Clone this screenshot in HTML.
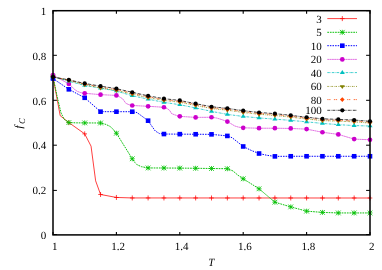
<!DOCTYPE html>
<html><head><meta charset="utf-8"><style>
html,body{margin:0;padding:0;background:#fff;width:382px;height:270px;overflow:hidden}
.t{font-family:"Liberation Serif",serif;font-size:11px;fill:#000}
</style></head><body>
<svg width="382" height="270" viewBox="0 0 382 270" style="position:absolute;left:0;top:0;will-change:transform" text-rendering="geometricPrecision">
<rect width="382" height="270" fill="#fff"/>
<path d="M53.00 76.74L60.20 115.69L68.85 122.58L84.70 133.86L91.04 146.13L95.64 180.83L100.55 194.48L116.40 197.46L132.25 197.95L370.00 198.00" fill="none" stroke="#ff0000" stroke-width="0.75"/>
<path d="M50.70 76.74H55.30M53.00 74.24V79.24" stroke="#ff0000" stroke-width="0.75" fill="none"/>
<path d="M66.55 122.58H71.15M68.85 120.08V125.08" stroke="#ff0000" stroke-width="0.75" fill="none"/>
<path d="M82.40 133.86H87.00M84.70 131.36V136.36" stroke="#ff0000" stroke-width="0.75" fill="none"/>
<path d="M98.25 194.48H102.85M100.55 191.98V196.98" stroke="#ff0000" stroke-width="0.75" fill="none"/>
<path d="M114.10 197.46H118.70M116.40 194.96V199.96" stroke="#ff0000" stroke-width="0.75" fill="none"/>
<path d="M129.95 197.95H134.55M132.25 195.45V200.45" stroke="#ff0000" stroke-width="0.75" fill="none"/>
<path d="M145.80 197.95H150.40M148.10 195.45V200.45" stroke="#ff0000" stroke-width="0.75" fill="none"/>
<path d="M161.65 197.96H166.25M163.95 195.46V200.46" stroke="#ff0000" stroke-width="0.75" fill="none"/>
<path d="M177.50 197.96H182.10M179.80 195.46V200.46" stroke="#ff0000" stroke-width="0.75" fill="none"/>
<path d="M193.35 197.96H197.95M195.65 195.46V200.46" stroke="#ff0000" stroke-width="0.75" fill="none"/>
<path d="M209.20 197.97H213.80M211.50 195.47V200.47" stroke="#ff0000" stroke-width="0.75" fill="none"/>
<path d="M225.05 197.97H229.65M227.35 195.47V200.47" stroke="#ff0000" stroke-width="0.75" fill="none"/>
<path d="M240.90 197.97H245.50M243.20 195.47V200.47" stroke="#ff0000" stroke-width="0.75" fill="none"/>
<path d="M256.75 197.97H261.35M259.05 195.47V200.47" stroke="#ff0000" stroke-width="0.75" fill="none"/>
<path d="M272.60 197.98H277.20M274.90 195.48V200.48" stroke="#ff0000" stroke-width="0.75" fill="none"/>
<path d="M288.45 197.98H293.05M290.75 195.48V200.48" stroke="#ff0000" stroke-width="0.75" fill="none"/>
<path d="M304.30 197.98H308.90M306.60 195.48V200.48" stroke="#ff0000" stroke-width="0.75" fill="none"/>
<path d="M320.15 197.99H324.75M322.45 195.49V200.49" stroke="#ff0000" stroke-width="0.75" fill="none"/>
<path d="M336.00 197.99H340.60M338.30 195.49V200.49" stroke="#ff0000" stroke-width="0.75" fill="none"/>
<path d="M351.85 197.99H356.45M354.15 195.49V200.49" stroke="#ff0000" stroke-width="0.75" fill="none"/>
<path d="M367.70 198.00H372.30M370.00 195.50V200.50" stroke="#ff0000" stroke-width="0.75" fill="none"/>
<path d="M327.3 18.6H357" fill="none" stroke="#ff0000" stroke-width="0.75"/>
<path d="M340.00 18.60H344.60M342.30 16.10V21.10" stroke="#ff0000" stroke-width="0.75" fill="none"/>
<text x="321.8" y="22.60" text-anchor="end" class="t">3</text>
<path d="M53.00 76.74L56.96 95.76L60.92 112.55L64.09 119.27L68.85 122.58L76.77 122.85L100.55 123.01L105.94 124.42L110.06 126.43L113.23 129.34L116.40 133.26L132.25 158.78L134.69 162.31L137.20 164.84L141.60 166.72L148.10 167.95L163.95 168.00L179.80 168.11L195.65 168.29L211.50 168.51L227.35 168.72L232.90 170.91L237.81 175.10L243.20 178.79L259.05 188.80L274.90 202.20L290.75 206.90L306.60 211.16L322.45 212.39L338.30 212.95L370.00 212.95" fill="none" stroke="#00c000" stroke-width="0.95" stroke-dasharray="1.7 0.9"/>
<path d="M50.50 76.74H55.50M53.00 74.24V79.24M50.62 74.36L55.38 79.11M50.62 79.11L55.38 74.36" stroke="#00c000" stroke-width="0.8" fill="none"/>
<path d="M66.35 122.58H71.35M68.85 120.08V125.08M66.48 120.21L71.23 124.96M66.48 124.96L71.23 120.21" stroke="#00c000" stroke-width="0.8" fill="none"/>
<path d="M82.20 122.90H87.20M84.70 120.40V125.40M82.33 120.53L87.08 125.28M82.33 125.28L87.08 120.53" stroke="#00c000" stroke-width="0.8" fill="none"/>
<path d="M98.05 123.01H103.05M100.55 120.51V125.51M98.17 120.63L102.92 125.38M98.17 125.38L102.92 120.63" stroke="#00c000" stroke-width="0.8" fill="none"/>
<path d="M113.90 133.26H118.90M116.40 130.76V135.76M114.02 130.88L118.77 135.63M114.02 135.63L118.77 130.88" stroke="#00c000" stroke-width="0.8" fill="none"/>
<path d="M129.75 158.78H134.75M132.25 156.28V161.28M129.88 156.40L134.62 161.15M129.88 161.15L134.62 156.40" stroke="#00c000" stroke-width="0.8" fill="none"/>
<path d="M145.60 167.95H150.60M148.10 165.45V170.45M145.73 165.58L150.48 170.33M145.73 170.33L150.48 165.58" stroke="#00c000" stroke-width="0.8" fill="none"/>
<path d="M161.45 168.00H166.45M163.95 165.50V170.50M161.58 165.62L166.33 170.37M161.58 170.37L166.33 165.62" stroke="#00c000" stroke-width="0.8" fill="none"/>
<path d="M177.30 168.11H182.30M179.80 165.61V170.61M177.42 165.74L182.17 170.49M177.42 170.49L182.17 165.74" stroke="#00c000" stroke-width="0.8" fill="none"/>
<path d="M193.15 168.29H198.15M195.65 165.79V170.79M193.27 165.92L198.02 170.67M193.27 170.67L198.02 165.92" stroke="#00c000" stroke-width="0.8" fill="none"/>
<path d="M209.00 168.51H214.00M211.50 166.01V171.01M209.12 166.14L213.88 170.89M209.12 170.89L213.88 166.14" stroke="#00c000" stroke-width="0.8" fill="none"/>
<path d="M224.85 168.72H229.85M227.35 166.22V171.22M224.98 166.34L229.73 171.09M224.98 171.09L229.73 166.34" stroke="#00c000" stroke-width="0.8" fill="none"/>
<path d="M240.70 178.79H245.70M243.20 176.29V181.29M240.83 176.41L245.58 181.16M240.83 181.16L245.58 176.41" stroke="#00c000" stroke-width="0.8" fill="none"/>
<path d="M256.55 188.80H261.55M259.05 186.30V191.30M256.67 186.42L261.42 191.17M256.67 191.17L261.42 186.42" stroke="#00c000" stroke-width="0.8" fill="none"/>
<path d="M272.40 202.20H277.40M274.90 199.70V204.70M272.53 199.83L277.28 204.58M272.53 204.58L277.28 199.83" stroke="#00c000" stroke-width="0.8" fill="none"/>
<path d="M288.25 206.90H293.25M290.75 204.40V209.40M288.38 204.53L293.12 209.28M288.38 209.28L293.12 204.53" stroke="#00c000" stroke-width="0.8" fill="none"/>
<path d="M304.10 211.16H309.10M306.60 208.66V213.66M304.23 208.78L308.98 213.53M304.23 213.53L308.98 208.78" stroke="#00c000" stroke-width="0.8" fill="none"/>
<path d="M319.95 212.39H324.95M322.45 209.89V214.89M320.08 210.01L324.83 214.76M320.08 214.76L324.83 210.01" stroke="#00c000" stroke-width="0.8" fill="none"/>
<path d="M335.80 212.95H340.80M338.30 210.45V215.45M335.92 210.57L340.67 215.32M335.92 215.32L340.67 210.57" stroke="#00c000" stroke-width="0.8" fill="none"/>
<path d="M351.65 212.95H356.65M354.15 210.45V215.45M351.78 210.57L356.53 215.32M351.78 215.32L356.53 210.57" stroke="#00c000" stroke-width="0.8" fill="none"/>
<path d="M367.50 212.95H372.50M370.00 210.45V215.45M367.62 210.57L372.38 215.32M367.62 215.32L372.38 210.57" stroke="#00c000" stroke-width="0.8" fill="none"/>
<path d="M327.3 32.3H357" fill="none" stroke="#00c000" stroke-width="0.95" stroke-dasharray="1.7 0.9"/>
<path d="M339.80 32.30H344.80M342.30 29.80V34.80M339.93 29.92L344.68 34.67M339.93 34.67L344.68 29.92" stroke="#00c000" stroke-width="0.8" fill="none"/>
<text x="321.8" y="36.30" text-anchor="end" class="t">5</text>
<path d="M53.00 78.53L68.85 89.32L84.70 97.78L100.55 111.66L132.25 111.72L137.00 112.55L148.10 120.68L151.11 125.15L155.30 131.04L159.51 133.55L163.95 134.04L211.50 134.35L227.35 135.92L232.10 137.69L243.20 146.47L251.12 150.38L259.05 153.52L266.98 155.31L274.90 156.38L290.75 156.27L370.00 156.27" fill="none" stroke="#0000ff" stroke-width="1.0" stroke-dasharray="1.5 1.1"/>
<rect x="50.70" y="76.23" width="4.6" height="4.6" fill="#0000ff"/>
<rect x="66.55" y="87.02" width="4.6" height="4.6" fill="#0000ff"/>
<rect x="82.40" y="95.48" width="4.6" height="4.6" fill="#0000ff"/>
<rect x="98.25" y="109.36" width="4.6" height="4.6" fill="#0000ff"/>
<rect x="114.10" y="109.39" width="4.6" height="4.6" fill="#0000ff"/>
<rect x="129.95" y="109.42" width="4.6" height="4.6" fill="#0000ff"/>
<rect x="145.80" y="118.38" width="4.6" height="4.6" fill="#0000ff"/>
<rect x="161.65" y="131.74" width="4.6" height="4.6" fill="#0000ff"/>
<rect x="177.50" y="131.85" width="4.6" height="4.6" fill="#0000ff"/>
<rect x="193.35" y="131.95" width="4.6" height="4.6" fill="#0000ff"/>
<rect x="209.20" y="132.05" width="4.6" height="4.6" fill="#0000ff"/>
<rect x="225.05" y="133.62" width="4.6" height="4.6" fill="#0000ff"/>
<rect x="240.90" y="144.17" width="4.6" height="4.6" fill="#0000ff"/>
<rect x="256.75" y="151.22" width="4.6" height="4.6" fill="#0000ff"/>
<rect x="272.60" y="154.08" width="4.6" height="4.6" fill="#0000ff"/>
<rect x="288.45" y="153.97" width="4.6" height="4.6" fill="#0000ff"/>
<rect x="304.30" y="153.97" width="4.6" height="4.6" fill="#0000ff"/>
<rect x="320.15" y="153.97" width="4.6" height="4.6" fill="#0000ff"/>
<rect x="336.00" y="153.97" width="4.6" height="4.6" fill="#0000ff"/>
<rect x="351.85" y="153.97" width="4.6" height="4.6" fill="#0000ff"/>
<rect x="367.70" y="153.97" width="4.6" height="4.6" fill="#0000ff"/>
<path d="M327.3 45.7H357" fill="none" stroke="#0000ff" stroke-width="1.0" stroke-dasharray="1.5 1.1"/>
<rect x="340.00" y="43.40" width="4.6" height="4.6" fill="#0000ff"/>
<text x="321.8" y="49.70" text-anchor="end" class="t">10</text>
<path d="M53.00 75.17L68.85 83.90L72.40 87.19L74.87 89.72L77.41 91.40L80.74 92.63L84.70 93.30L100.55 94.64L116.40 95.43L119.57 96.88L122.74 98.90L125.91 103.37L129.08 104.72L132.25 105.50L148.10 106.28L163.95 107.27L167.69 108.90L169.81 110.60L171.49 113.49L174.41 114.75L179.80 116.36L195.65 117.39L211.50 117.25L216.79 118.06L221.80 119.60L227.35 121.60L231.00 123.70L234.80 125.98L238.44 127.10L243.20 127.82L259.05 128.22L274.90 128.22L290.75 128.45L306.60 129.12L322.45 132.25L338.30 134.40L354.15 139.12L370.00 139.77" fill="none" stroke="#cc00cc" stroke-width="0.55" stroke-dasharray="2 0.3"/>
<circle cx="53.00" cy="75.17" r="2.35" fill="#cc00cc"/>
<circle cx="68.85" cy="83.90" r="2.35" fill="#cc00cc"/>
<circle cx="84.70" cy="93.30" r="2.35" fill="#cc00cc"/>
<circle cx="100.55" cy="94.64" r="2.35" fill="#cc00cc"/>
<circle cx="116.40" cy="95.43" r="2.35" fill="#cc00cc"/>
<circle cx="132.25" cy="105.50" r="2.35" fill="#cc00cc"/>
<circle cx="148.10" cy="106.28" r="2.35" fill="#cc00cc"/>
<circle cx="163.95" cy="107.27" r="2.35" fill="#cc00cc"/>
<circle cx="179.80" cy="116.36" r="2.35" fill="#cc00cc"/>
<circle cx="195.65" cy="117.39" r="2.35" fill="#cc00cc"/>
<circle cx="211.50" cy="117.25" r="2.35" fill="#cc00cc"/>
<circle cx="227.35" cy="121.60" r="2.35" fill="#cc00cc"/>
<circle cx="243.20" cy="127.82" r="2.35" fill="#cc00cc"/>
<circle cx="259.05" cy="128.22" r="2.35" fill="#cc00cc"/>
<circle cx="274.90" cy="128.22" r="2.35" fill="#cc00cc"/>
<circle cx="290.75" cy="128.45" r="2.35" fill="#cc00cc"/>
<circle cx="306.60" cy="129.12" r="2.35" fill="#cc00cc"/>
<circle cx="322.45" cy="132.25" r="2.35" fill="#cc00cc"/>
<circle cx="338.30" cy="134.40" r="2.35" fill="#cc00cc"/>
<circle cx="354.15" cy="139.12" r="2.35" fill="#cc00cc"/>
<circle cx="370.00" cy="139.77" r="2.35" fill="#cc00cc"/>
<path d="M327.3 59.4H357" fill="none" stroke="#cc00cc" stroke-width="0.55" stroke-dasharray="2 0.3"/>
<circle cx="342.30" cy="59.40" r="2.35" fill="#cc00cc"/>
<text x="321.8" y="63.40" text-anchor="end" class="t">20</text>
<path d="M53.00 76.74L68.85 81.21L84.70 85.47L100.55 88.15L116.40 91.06L132.25 95.76L148.10 99.12L163.95 102.37L179.80 104.72L195.65 107.96L211.50 111.37L227.35 114.39L243.20 116.47L259.05 117.92L274.90 119.16L290.75 120.39L306.60 121.84L322.45 123.41L338.30 124.64L354.15 125.58L370.00 126.03" fill="none" stroke="#00c0c0" stroke-width="0.75" stroke-dasharray="2.5 0.8 0.5 0.8"/>
<path d="M53.00 74.04L55.50 78.04H50.50Z" fill="#00c0c0"/>
<path d="M68.85 78.51L71.35 82.51H66.35Z" fill="#00c0c0"/>
<path d="M84.70 82.77L87.20 86.77H82.20Z" fill="#00c0c0"/>
<path d="M100.55 85.45L103.05 89.45H98.05Z" fill="#00c0c0"/>
<path d="M116.40 88.36L118.90 92.36H113.90Z" fill="#00c0c0"/>
<path d="M132.25 93.06L134.75 97.06H129.75Z" fill="#00c0c0"/>
<path d="M148.10 96.42L150.60 100.42H145.60Z" fill="#00c0c0"/>
<path d="M163.95 99.67L166.45 103.67H161.45Z" fill="#00c0c0"/>
<path d="M179.80 102.02L182.30 106.02H177.30Z" fill="#00c0c0"/>
<path d="M195.65 105.26L198.15 109.26H193.15Z" fill="#00c0c0"/>
<path d="M211.50 108.67L214.00 112.67H209.00Z" fill="#00c0c0"/>
<path d="M227.35 111.69L229.85 115.69H224.85Z" fill="#00c0c0"/>
<path d="M243.20 113.77L245.70 117.77H240.70Z" fill="#00c0c0"/>
<path d="M259.05 115.22L261.55 119.22H256.55Z" fill="#00c0c0"/>
<path d="M274.90 116.46L277.40 120.46H272.40Z" fill="#00c0c0"/>
<path d="M290.75 117.69L293.25 121.69H288.25Z" fill="#00c0c0"/>
<path d="M306.60 119.14L309.10 123.14H304.10Z" fill="#00c0c0"/>
<path d="M322.45 120.71L324.95 124.71H319.95Z" fill="#00c0c0"/>
<path d="M338.30 121.94L340.80 125.94H335.80Z" fill="#00c0c0"/>
<path d="M354.15 122.88L356.65 126.88H351.65Z" fill="#00c0c0"/>
<path d="M370.00 123.33L372.50 127.33H367.50Z" fill="#00c0c0"/>
<path d="M327.3 72.6H357" fill="none" stroke="#00c0c0" stroke-width="0.75" stroke-dasharray="2.5 0.8 0.5 0.8"/>
<path d="M342.30 69.90L344.80 73.90H339.80Z" fill="#00c0c0"/>
<text x="321.8" y="76.60" text-anchor="end" class="t">40</text>
<path d="M53.00 76.96L68.85 80.47L84.70 84.65L100.55 87.93L116.40 90.46L132.25 94.08L148.10 97.64L163.95 100.46L179.80 102.25L195.65 105.48L211.50 108.52L227.35 110.16L243.20 112.46L259.05 114.28L274.90 115.46L290.75 117.12L306.60 119.04L322.45 120.61L338.30 121.17L354.15 121.84L370.00 123.07" fill="none" stroke="#808000" stroke-width="0.75" stroke-dasharray="1.5 1 0.6 1"/>
<path d="M53.00 79.56L55.50 75.66H50.50Z" fill="#808000"/>
<path d="M68.85 83.07L71.35 79.17H66.35Z" fill="#808000"/>
<path d="M84.70 87.25L87.20 83.35H82.20Z" fill="#808000"/>
<path d="M100.55 90.53L103.05 86.63H98.05Z" fill="#808000"/>
<path d="M116.40 93.06L118.90 89.16H113.90Z" fill="#808000"/>
<path d="M132.25 96.68L134.75 92.78H129.75Z" fill="#808000"/>
<path d="M148.10 100.24L150.60 96.34H145.60Z" fill="#808000"/>
<path d="M163.95 103.06L166.45 99.16H161.45Z" fill="#808000"/>
<path d="M179.80 104.85L182.30 100.95H177.30Z" fill="#808000"/>
<path d="M195.65 108.08L198.15 104.18H193.15Z" fill="#808000"/>
<path d="M211.50 111.12L214.00 107.22H209.00Z" fill="#808000"/>
<path d="M227.35 112.76L229.85 108.86H224.85Z" fill="#808000"/>
<path d="M243.20 115.06L245.70 111.16H240.70Z" fill="#808000"/>
<path d="M259.05 116.88L261.55 112.98H256.55Z" fill="#808000"/>
<path d="M274.90 118.06L277.40 114.16H272.40Z" fill="#808000"/>
<path d="M290.75 119.72L293.25 115.82H288.25Z" fill="#808000"/>
<path d="M306.60 121.64L309.10 117.74H304.10Z" fill="#808000"/>
<path d="M322.45 123.21L324.95 119.31H319.95Z" fill="#808000"/>
<path d="M338.30 123.77L340.80 119.87H335.80Z" fill="#808000"/>
<path d="M354.15 124.44L356.65 120.54H351.65Z" fill="#808000"/>
<path d="M370.00 125.67L372.50 121.77H367.50Z" fill="#808000"/>
<path d="M327.3 86.45H357" fill="none" stroke="#808000" stroke-width="0.75" stroke-dasharray="1.5 1 0.6 1"/>
<path d="M342.30 89.05L344.80 85.15H339.80Z" fill="#808000"/>
<text x="321.8" y="90.45" text-anchor="end" class="t">60</text>
<path d="M53.00 76.96L68.85 80.17L84.70 84.05L100.55 87.03L116.40 89.56L132.25 93.19L148.10 96.75L163.95 99.57L179.80 101.36L195.65 104.58L211.50 107.63L227.35 109.26L243.20 111.57L259.05 113.38L274.90 114.57L290.75 116.22L306.60 118.15L322.45 119.71L338.30 120.27L354.15 120.95L370.00 122.18" fill="none" stroke="#ff4500" stroke-width="0.75" stroke-dasharray="1.3 0.6 1.3 3.4"/>
<path d="M53.00 74.66L55.30 76.96L53.00 79.26L50.70 76.96Z" fill="#ff4500"/>
<path d="M68.85 77.87L71.15 80.17L68.85 82.47L66.55 80.17Z" fill="#ff4500"/>
<path d="M84.70 81.75L87.00 84.05L84.70 86.35L82.40 84.05Z" fill="#ff4500"/>
<path d="M100.55 84.73L102.85 87.03L100.55 89.33L98.25 87.03Z" fill="#ff4500"/>
<path d="M116.40 87.26L118.70 89.56L116.40 91.86L114.10 89.56Z" fill="#ff4500"/>
<path d="M132.25 90.89L134.55 93.19L132.25 95.49L129.95 93.19Z" fill="#ff4500"/>
<path d="M148.10 94.45L150.40 96.75L148.10 99.05L145.80 96.75Z" fill="#ff4500"/>
<path d="M163.95 97.27L166.25 99.57L163.95 101.87L161.65 99.57Z" fill="#ff4500"/>
<path d="M179.80 99.06L182.10 101.36L179.80 103.66L177.50 101.36Z" fill="#ff4500"/>
<path d="M195.65 102.28L197.95 104.58L195.65 106.88L193.35 104.58Z" fill="#ff4500"/>
<path d="M211.50 105.33L213.80 107.63L211.50 109.93L209.20 107.63Z" fill="#ff4500"/>
<path d="M227.35 106.96L229.65 109.26L227.35 111.56L225.05 109.26Z" fill="#ff4500"/>
<path d="M243.20 109.27L245.50 111.57L243.20 113.87L240.90 111.57Z" fill="#ff4500"/>
<path d="M259.05 111.08L261.35 113.38L259.05 115.68L256.75 113.38Z" fill="#ff4500"/>
<path d="M274.90 112.27L277.20 114.57L274.90 116.87L272.60 114.57Z" fill="#ff4500"/>
<path d="M290.75 113.92L293.05 116.22L290.75 118.52L288.45 116.22Z" fill="#ff4500"/>
<path d="M306.60 115.85L308.90 118.15L306.60 120.45L304.30 118.15Z" fill="#ff4500"/>
<path d="M322.45 117.41L324.75 119.71L322.45 122.01L320.15 119.71Z" fill="#ff4500"/>
<path d="M338.30 117.97L340.60 120.27L338.30 122.57L336.00 120.27Z" fill="#ff4500"/>
<path d="M354.15 118.65L356.45 120.95L354.15 123.25L351.85 120.95Z" fill="#ff4500"/>
<path d="M370.00 119.88L372.30 122.18L370.00 124.48L367.70 122.18Z" fill="#ff4500"/>
<path d="M327.3 99.6H357" fill="none" stroke="#ff4500" stroke-width="0.75" stroke-dasharray="1.3 0.6 1.3 3.4"/>
<path d="M342.30 97.30L344.60 99.60L342.30 101.90L340.00 99.60Z" fill="#ff4500"/>
<text x="321.8" y="103.60" text-anchor="end" class="t">80</text>
<path d="M53.00 76.96L68.85 79.87L84.70 83.45L100.55 86.14L116.40 88.67L132.25 92.29L148.10 95.85L163.95 98.67L179.80 100.46L195.65 103.69L211.50 106.73L227.35 108.37L243.20 110.67L259.05 112.48L274.90 113.67L290.75 115.33L306.60 117.25L322.45 118.82L338.30 119.38L354.15 120.05L370.00 121.28" fill="none" stroke="#000000" stroke-width="0.75" stroke-dasharray="3 0.8 0.5 0.8"/>
<circle cx="53.00" cy="76.96" r="2.1" fill="#000000"/>
<circle cx="68.85" cy="79.87" r="2.1" fill="#000000"/>
<circle cx="84.70" cy="83.45" r="2.1" fill="#000000"/>
<circle cx="100.55" cy="86.14" r="2.1" fill="#000000"/>
<circle cx="116.40" cy="88.67" r="2.1" fill="#000000"/>
<circle cx="132.25" cy="92.29" r="2.1" fill="#000000"/>
<circle cx="148.10" cy="95.85" r="2.1" fill="#000000"/>
<circle cx="163.95" cy="98.67" r="2.1" fill="#000000"/>
<circle cx="179.80" cy="100.46" r="2.1" fill="#000000"/>
<circle cx="195.65" cy="103.69" r="2.1" fill="#000000"/>
<circle cx="211.50" cy="106.73" r="2.1" fill="#000000"/>
<circle cx="227.35" cy="108.37" r="2.1" fill="#000000"/>
<circle cx="243.20" cy="110.67" r="2.1" fill="#000000"/>
<circle cx="259.05" cy="112.48" r="2.1" fill="#000000"/>
<circle cx="274.90" cy="113.67" r="2.1" fill="#000000"/>
<circle cx="290.75" cy="115.33" r="2.1" fill="#000000"/>
<circle cx="306.60" cy="117.25" r="2.1" fill="#000000"/>
<circle cx="322.45" cy="118.82" r="2.1" fill="#000000"/>
<circle cx="338.30" cy="119.38" r="2.1" fill="#000000"/>
<circle cx="354.15" cy="120.05" r="2.1" fill="#000000"/>
<circle cx="370.00" cy="121.28" r="2.1" fill="#000000"/>
<path d="M327.3 110.3H357" fill="none" stroke="#000000" stroke-width="0.75" stroke-dasharray="3 0.8 0.5 0.8"/>
<circle cx="342.30" cy="110.30" r="2.1" fill="#000000"/>
<text x="321.8" y="114.30" text-anchor="end" class="t">100</text>
<rect x="53.0" y="10.7" width="317.00" height="224.20" fill="none" stroke="#000" stroke-width="1.5"/>
<path d="M53.0 234.55h3.9M370.0 234.55h-3.9" stroke="#000" stroke-width="1"/>
<text x="46.3" y="238.95" text-anchor="end" class="t">0</text>
<path d="M53.00 234.9v-3.0M53.00 10.7v3.1" stroke="#000" stroke-width="1.1"/>
<text x="54.70" y="249.8" text-anchor="middle" class="t">1</text>
<path d="M53.0 190.40h3.9M370.0 190.40h-3.9" stroke="#000" stroke-width="1"/>
<text x="46.3" y="194.18" text-anchor="end" class="t">0.2</text>
<path d="M116.40 234.9v-3.0M116.40 10.7v3.1" stroke="#000" stroke-width="1.1"/>
<text x="118.10" y="249.8" text-anchor="middle" class="t">1.2</text>
<path d="M53.0 145.20h3.9M370.0 145.20h-3.9" stroke="#000" stroke-width="1"/>
<text x="46.3" y="149.41" text-anchor="end" class="t">0.4</text>
<path d="M179.80 234.9v-3.0M179.80 10.7v3.1" stroke="#000" stroke-width="1.1"/>
<text x="181.50" y="249.8" text-anchor="middle" class="t">1.4</text>
<path d="M53.0 100.30h3.9M370.0 100.30h-3.9" stroke="#000" stroke-width="1"/>
<text x="46.3" y="104.64" text-anchor="end" class="t">0.6</text>
<path d="M243.20 234.9v-3.0M243.20 10.7v3.1" stroke="#000" stroke-width="1.1"/>
<text x="244.90" y="249.8" text-anchor="middle" class="t">1.6</text>
<path d="M53.0 55.30h3.9M370.0 55.30h-3.9" stroke="#000" stroke-width="1"/>
<text x="46.3" y="59.87" text-anchor="end" class="t">0.8</text>
<path d="M306.60 234.9v-3.0M306.60 10.7v3.1" stroke="#000" stroke-width="1.1"/>
<text x="308.30" y="249.8" text-anchor="middle" class="t">1.8</text>
<path d="M53.0 10.70h3.9M370.0 10.70h-3.9" stroke="#000" stroke-width="1"/>
<text x="46.3" y="15.10" text-anchor="end" class="t">1</text>
<path d="M370.00 234.9v-3.0M370.00 10.7v3.1" stroke="#000" stroke-width="1.1"/>
<text x="371.70" y="249.8" text-anchor="middle" class="t">2</text>
<text x="211.3" y="266.2" text-anchor="middle" class="t" font-style="italic">T</text>
<text transform="translate(21.7,128.4) rotate(-90)" class="t" font-style="italic">f</text>
<text transform="translate(25.1,124.1) rotate(-90)" class="t" font-style="italic" style="font-size:8.8px">C</text>
</svg>
</body></html>
